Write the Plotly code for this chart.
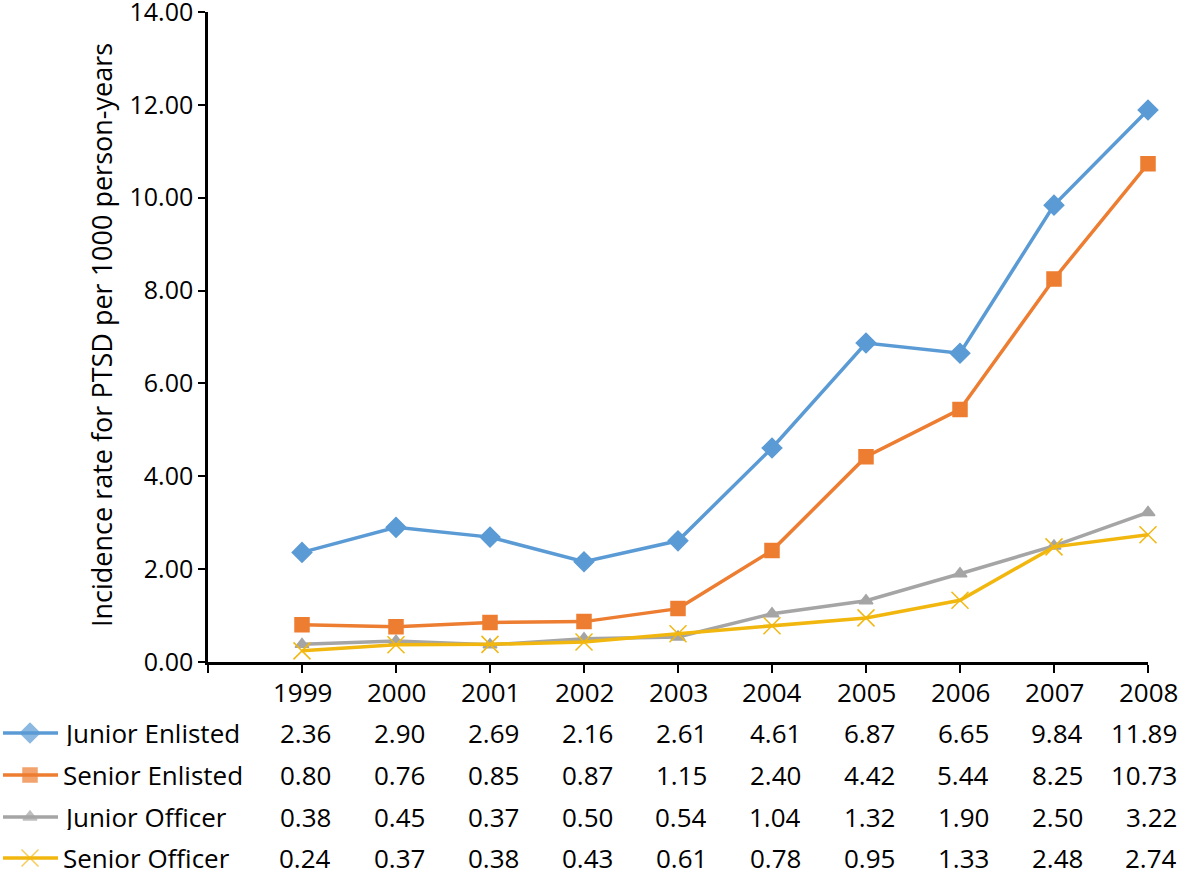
import plotly.graph_objects as go

years = [1999, 2000, 2001, 2002, 2003, 2004, 2005, 2006, 2007, 2008]
series_names = ["Junior Enlisted", "Senior Enlisted", "Junior Officer", "Senior Officer"]
junior_enlisted = [2.36, 2.90, 2.69, 2.16, 2.61, 4.61, 6.87, 6.65, 9.84, 11.89]
senior_enlisted = [0.80, 0.76, 0.85, 0.87, 1.15, 2.40, 4.42, 5.44, 8.25, 10.73]
junior_officer = [0.38, 0.45, 0.37, 0.50, 0.54, 1.04, 1.32, 1.90, 2.50, 3.22]
senior_officer = [0.24, 0.37, 0.38, 0.43, 0.61, 0.78, 0.95, 1.33, 2.48, 2.74]
y_ticks = [0, 2, 4, 6, 8, 10, 12, 14]

W, H = 1181, 873
FONT = "Open Sans"
FS = 26

styles = [
    dict(color="#5B9BD5", symbol="diamond", size=15, edge="#5B9BD5"),
    dict(color="#ED7D31", symbol="square", size=14, edge="#ED7D31"),
    dict(color="#A5A5A5", symbol="triangle-up", size=12, edge="#A5A5A5"),
    dict(color="#F2B70F", symbol="x-thin-open", size=17, edge="#F5CE55"),
]
all_series = [junior_enlisted, senior_enlisted, junior_officer, senior_officer]

fig = go.Figure()

# main plot
for name, vals, st in zip(series_names, all_series, styles):
    fig.add_trace(go.Scatter(
        x=years, y=vals, name=name, mode="lines+markers",
        line=dict(color=st["color"], width=3.5),
        marker=dict(symbol=st["symbol"], size=st["size"], color=st["color"],
                    line=dict(color=st["edge"], width=1.5)),
        xaxis="x", yaxis="y", showlegend=False, cliponaxis=False,
    ))

# legend keys of the data table, drawn on an overlay axis in pixels
row_y = [733, 775, 817, 858]
for name, st, ry in zip(series_names, styles, row_y):
    fig.add_trace(go.Scatter(
        x=[3, 30, 58], y=[ry, ry, ry], mode="lines+markers",
        line=dict(color=st["color"], width=3.5),
        marker=dict(symbol=st["symbol"], size=[0, st["size"], 0], color=st["color"],
                    line=dict(color=st["edge"], width=1.5)),
        xaxis="x2", yaxis="y2", showlegend=False, hoverinfo="skip", cliponaxis=False,
    ))

cell_font = dict(size=FS, color="black", family=FONT)
annotations = []
for yr in years:
    annotations.append(dict(x=yr, y=692, xref="x", yref="y2", text=str(yr),
                            showarrow=False, xanchor="center", yanchor="middle",
                            height=28, valign="middle", font=cell_font))
for vals, ry in zip(all_series, row_y):
    for yr, v in zip(years, vals):
        annotations.append(dict(x=yr, y=ry, xref="x", yref="y2", text=f"{v:.2f}",
                                showarrow=False, xanchor="right", yanchor="middle", xshift=31,
                                height=26, valign="middle", font=cell_font))
for name, ry in zip(series_names, row_y):
    annotations.append(dict(x=61, y=ry, xref="x2", yref="y2", text=name,
                            showarrow=False, xanchor="left", yanchor="middle",
                            height=26, valign="middle", font=cell_font))
annotations.append(dict(x=101, y=335, xref="x2", yref="y2",
                        text="Incidence rate for PTSD per 1000 person-years",
                        textangle=-90, showarrow=False, xanchor="center", yanchor="middle",
                        font=dict(size=27, color="black", family=FONT)))

fig.update_layout(
    width=W, height=H, autosize=False,
    margin=dict(l=0, r=0, t=0, b=0),
    paper_bgcolor="white", plot_bgcolor="rgba(0,0,0,0)",
    font=dict(family=FONT, size=FS, color="black"),
    xaxis=dict(
        domain=[208 / W, 1148 / W], range=[1998, 2008],
        tickvals=[1998] + years, ticktext=[""] * (len(years) + 1),
        ticks="outside", ticklen=8, tickwidth=2, tickcolor="black",
        showline=True, linecolor="black", linewidth=2.5,
        showgrid=False, zeroline=False, anchor="y", automargin=False,
    ),
    yaxis=dict(
        domain=[(H - 662) / H, (H - 12) / H], range=[0, 14],
        tickvals=y_ticks, ticktext=[f"{v:.2f}" for v in y_ticks],
        ticks="outside", ticklen=7, tickwidth=2, tickcolor="black",
        showline=True, linecolor="black", linewidth=2.5,
        showgrid=False, zeroline=False, anchor="x", automargin=False,
        ticklabeloverflow="allow",
        tickfont=dict(size=25, family=FONT, color="black"),
    ),
    xaxis2=dict(domain=[0, 1], range=[0, W], visible=False, anchor="y2", automargin=False),
    yaxis2=dict(domain=[0, 1], range=[H, 0], visible=False, anchor="x2", automargin=False),
    annotations=annotations,
)

fig.write_html("out.html", config={"displayModeBar": False},
               post_script="document.body.style.margin='0';")
